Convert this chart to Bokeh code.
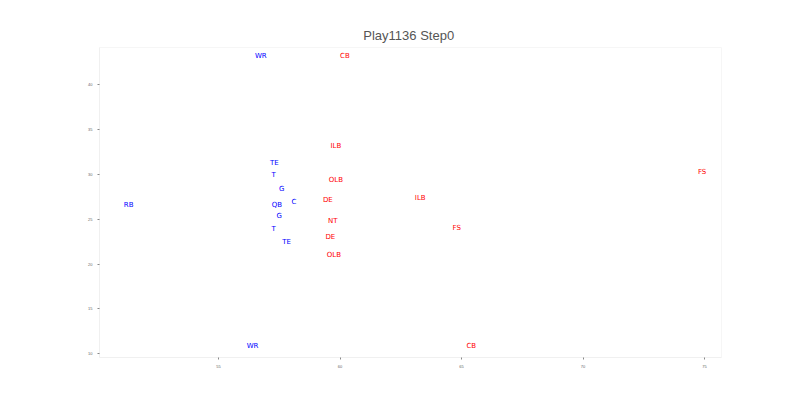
from bokeh.plotting import figure
from bokeh.embed import file_html
from bokeh.resources import INLINE
from bokeh.models import ColumnDataSource, Range1d
from bokeh.core.properties import value

off_labels = ["WR", "TE", "T", "G", "RB", "QB", "C", "G", "T", "TE", "WR"]
off_x = [56.74, 57.3, 57.27, 57.6, 51.3, 57.4, 58.1, 57.5, 57.27, 57.8, 56.4]
off_y = [43.1, 31.2, 29.9, 28.4, 26.6, 26.6, 26.9, 25.3, 23.9, 22.4, 10.9]

def_labels = ["CB", "ILB", "OLB", "FS", "DE", "ILB", "NT", "FS", "DE", "OLB", "CB"]
def_x = [60.2, 59.83, 59.83, 74.9, 59.5, 63.3, 59.7, 64.8, 59.6, 59.75, 65.4]
def_y = [43.1, 33.1, 29.4, 30.3, 27.1, 27.3, 24.8, 24.0, 23.0, 21.0, 10.9]

p = figure(width=784, height=384, output_backend="svg", toolbar_location=None,
           title="Play1136  Step0", x_range=Range1d(50.1, 75.7), y_range=Range1d(9.6, 44.1),
           min_border_left=99, min_border_right=63, min_border_top=47, min_border_bottom=27)
p.title.align = "center"
p.title.text_color = "#555555"
p.title.text_font_size = "13px"
p.title.text_font_style = "normal"
p.grid.visible = False
p.outline_line_color = "#f6f6f6"
for ax in (p.xaxis, p.yaxis):
    ax.axis_line_color = "#f0f0f0"
    ax.major_tick_line_color = "#888888"
    ax.minor_tick_line_color = None
    ax.major_label_text_font_size = "4px"
    ax.major_label_text_color = "#666666"
    ax.major_tick_out = 2
    ax.major_tick_in = 0
p.xaxis.ticker = [55, 60, 65, 70, 75]
p.yaxis.ticker = [10, 15, 20, 25, 30, 35, 40]

so = ColumnDataSource(dict(x=off_x, y=off_y, t=off_labels))
sd = ColumnDataSource(dict(x=def_x, y=def_y, t=def_labels))
for s, c in ((so, "blue"), (sd, "red")):
    p.text("x", "y", text="t", source=s, text_color=c, text_font_size="7px",
           text_align="center", text_baseline="middle", text_font=value("DejaVu Sans"))

open("out.html", "w").write(file_html(p, INLINE))
